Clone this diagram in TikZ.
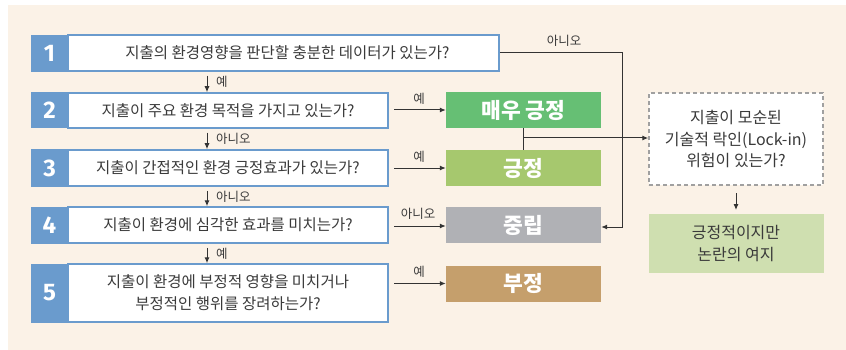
\documentclass[tikz,border=0pt]{standalone}
\usepackage{fontspec}
\setmainfont{Noto Sans CJK KR}
\newfontfamily\numfont{Fira Sans}
\usetikzlibrary{arrows.meta}
\definecolor{bgc}{HTML}{FBF2E7}
\definecolor{qblue}{HTML}{6A9BCD}
\definecolor{vgreen}{HTML}{66BF74}
\definecolor{lgreen}{HTML}{A6C86E}
\definecolor{ngray}{HTML}{B0B1B5}
\definecolor{ntan}{HTML}{C59F6C}
\definecolor{pgreen}{HTML}{CFDFB0}
\definecolor{lnc}{HTML}{333333}
\definecolor{dgray}{HTML}{A0A0A0}
\definecolor{txt}{HTML}{3A3A3A}
\begin{document}
\begin{tikzpicture}[x=1pt,y=-1pt,
  qbox/.style={draw=qblue,line width=1.5pt,fill=white,inner sep=0pt,minimum height=36pt,text=txt,font=\fontsize{15.5}{22}\selectfont,align=center},
  numbox/.style={fill=qblue,inner sep=0pt,minimum width=37pt,minimum height=37pt,text=white,font=\fontsize{24}{24}\numfont\bfseries},
  outbox/.style={inner sep=0pt,minimum width=155pt,minimum height=36pt,text=white,font=\fontsize{21.5}{24}\selectfont\bfseries},
  lbl/.style={text=txt,font=\fontsize{12.5}{14}\selectfont,inner sep=1pt},
  rbox/.style={inner sep=0pt,align=center,text=txt,font=\fontsize{16}{21.5}\selectfont},
  arr/.style={draw=lnc,line width=1pt,-{Latex[length=6pt,width=5pt]}},
  ln/.style={draw=lnc,line width=1pt}
]
\useasboundingbox (0,0) rectangle (846,350);
\fill[bgc] (8,5) rectangle (846,350);
% question boxes
\node[qbox,minimum width=431pt] (q1) at (283.5,53) {\hspace*{8pt}지출의 환경영향을 판단할 충분한 데이터가 있는가?};
\node[qbox,minimum width=320pt,minimum height=35pt] (q2) at (228,110.5) {지출이 주요 환경 목적을 가지고 있는가?};
\node[qbox,minimum width=320pt] (q3) at (228,168) {지출이 간접적인 환경 긍정효과가 있는가?};
\node[qbox,minimum width=320pt] (q4) at (228,225) {지출이 환경에 심각한 효과를 미치는가?};
\node[qbox,minimum width=320pt,minimum height=58pt] (q5) at (228,293) {지출이 환경에 부정적 영향을 미치거나\\부정적인 행위를 장려하는가?};
% number squares
\node[numbox,minimum height=37pt] (n1) at (49.5,53.5) {1};
\node[numbox,minimum height=36pt] (n2) at (49.5,110.5) {2};
\node[numbox,minimum height=37pt] (n3) at (49.5,168) {3};
\node[numbox,minimum height=37pt] (n4) at (49.5,225) {4};
\node[numbox,minimum height=59pt] (n5) at (49.5,293) {5};
% outcomes
\node[outbox,fill=vgreen] (o1) at (523.5,110) {매우 긍정};
\node[outbox,fill=lgreen] (o2) at (523.5,168) {긍정};
\node[outbox,fill=ngray] (o3) at (523.5,225) {중립};
\node[outbox,fill=ntan] (o4) at (523.5,283.5) {부정};
% right side
\node[rbox,draw=dgray,line width=1.5pt,dash pattern=on 4pt off 3pt,fill=white,minimum width=174pt,minimum height=92pt] (lk) at (736,139) {지출이 모순된\\기술적 락인(Lock-in)\\위험이 있는가?};
\node[rbox,fill=pgreen,minimum width=175pt,minimum height=59pt] (pc) at (736,243.5) {긍정적이지만\\논란의 여지};
% vertical yes/no arrows
\foreach \a/\b/\y/\t in {q1/q2/82/예,q2/q3/139/아니오,q3/q4/197/아니오,q4/q5/254/예}{
  \draw[arr] (207,0 |- \a.south) ++(0,4) -- (207,0 |- \b.north) ;
  \node[lbl,anchor=west] at (215,\y) {\t};
}
% horizontal arrows
\coordinate (h2) at (394,110);
\coordinate (h3) at (394,168);
\coordinate (h4) at (394,226);
\coordinate (h5) at (394,283.5);
\draw[arr] (h2) -- (o1.west |- h2);
\draw[arr] (h3) -- (o2.west |- h3);
\draw[arr] (h4) -- (o3.west |- h4);
\draw[arr] (h5) -- (o4.west |- h5);
\node[lbl] at (419,99) {예};
\node[lbl] at (419,157) {예};
\node[lbl] at (418,214) {아니오};
\node[lbl] at (419,272) {예};
% no from q1
\coordinate (c1) at (622,53);
\draw[arr] (q1.east) -- (c1) -- (c1 |- 0,227) -- (o3.east |- 0,227);
\node[lbl] at (564,41) {아니오};
% connector between outcomes
\draw[ln] (o1.south) -- (o2.north);
\draw[arr] (o1.south |- 0,138) -- (lk.west |- 0,138);
\coordinate (d1) at (736,193);
\coordinate (d2) at (736,210);
\draw[arr] (d1) -- (d2);
\end{tikzpicture}
\end{document}
